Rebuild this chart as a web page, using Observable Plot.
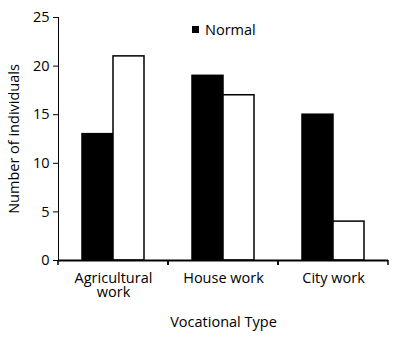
<!DOCTYPE html>
<html>
<head>
<meta charset="utf-8">
<script src="https://cdn.jsdelivr.net/npm/d3@7"></script>
<script src="https://cdn.jsdelivr.net/npm/@observablehq/plot@0.6"></script>
<style>
  body { margin: 0; background: #fff; }
  #wrap { position: relative; width: 394px; height: 346px; font-family: "Open Sans", sans-serif; }
  #legend { position: absolute; left: 192px; top: 20px; font-size: 14.5px; color: #000; display: flex; align-items: center; }
  #legend span.sw { display: inline-block; width: 7px; height: 7px; background: #000; margin-right: 6px; }
</style>
</head>
<body>
<div id="wrap"><div id="legend"><span class="sw"></span>Normal</div></div>
<script>
const categories = ["Agricultural work", "House work", "City work"];
const series = ["Normal", "Other"];
const normalValues = [13, 19, 15];
const otherValues = [21, 17, 4];
const yTicks = [0, 5, 10, 15, 20, 25];
const tickLabels = {"Agricultural work": "Agricultural\nwork", "House work": "House work", "City work": "City work"};
const fills = ["#000", "#fff"];

const data = [];
categories.forEach((c, i) => {
  data.push({category: c, series: series[0], value: normalValues[i]});
  data.push({category: c, series: series[1], value: otherValues[i]});
});

// ticks at the edges of each category band, drawn from the scales
function boundaryTick(index, scales) {
  const g = d3.create("svg:g");
  const y0 = scales.y(0);
  d3.extent(scales.x.range()).forEach(xr => {
    g.append("line")
      .attr("x1", xr).attr("x2", xr)
      .attr("y1", y0).attr("y2", y0 + 5)
      .attr("stroke", "#000").attr("stroke-width", 1.5);
  });
  return g.node();
}

const plot = Plot.plot({
  width: 394,
  height: 346,
  marginLeft: 57,
  marginRight: 6,
  marginTop: 17,
  marginBottom: 86,
  style: {fontSize: "14.5px", fontFamily: "'Open Sans', sans-serif", color: "#000", background: "#fff"},
  fx: {domain: categories, padding: 0, tickSize: 0, tickPadding: 12, tickFormat: d => tickLabels[d], label: "Vocational Type", labelAnchor: "center", labelOffset: 66},
  x: {domain: series, paddingInner: 0, paddingOuter: 0.77, axis: null},
  y: {domain: [0, 25], ticks: yTicks, tickSize: 5, tickPadding: 4, line: true, label: "Number of individuals", labelArrow: "none", labelAnchor: "center", labelOffset: 50},
  color: {domain: series, range: fills},
  marks: [
    Plot.barY(data, {fx: "category", x: "series", y: "value", fill: "series", stroke: "#000", strokeWidth: 1.5}),
    Plot.ruleY([0], {stroke: "#000", strokeWidth: 2}),
    boundaryTick
  ]
});
document.getElementById("wrap").appendChild(plot);
</script>
</body>
</html>
